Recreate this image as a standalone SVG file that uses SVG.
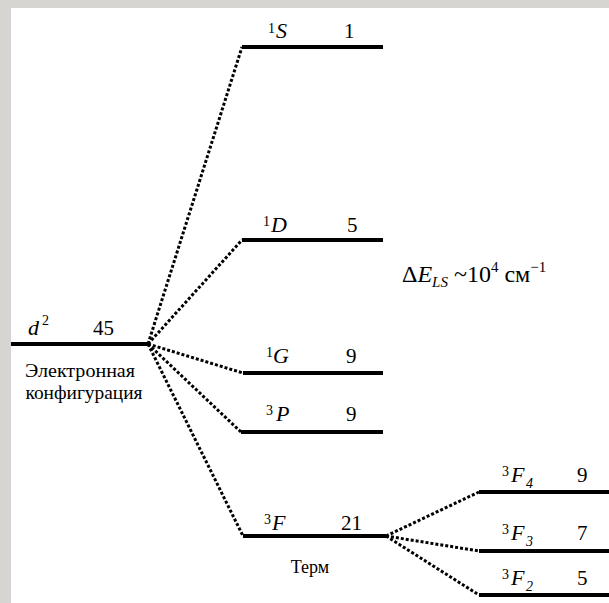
<svg xmlns="http://www.w3.org/2000/svg" width="609" height="603" viewBox="0 0 609 603">
<style>
.lvl{stroke:#000;stroke-width:4;fill:none}
.dot{stroke:#000;stroke-width:3;stroke-dasharray:3 2;fill:none}
.tx{font-family:"Liberation Serif","Tinos","Times New Roman","Times","Noto Serif","DejaVu Serif","FreeSerif",serif;fill:#000}
.it{font-style:italic;font-size:22px}
.num{font-size:21px}
.sup{font-size:14px}
.sub{font-size:14px;font-style:italic}
.cap{font-size:18px}
</style>
<rect x="0" y="0" width="609" height="603" fill="#d6d5d1"/>
<rect x="11" y="8" width="598" height="595" fill="#fff"/>
<g id="connectors">
<path class="dot" d="M148,344 L242,47"/>
<path class="dot" d="M148,344 L242,240"/>
<path class="dot" d="M148,344 L243,373"/>
<path class="dot" d="M148,344 L241,432"/>
<path class="dot" d="M148,344 L243,536"/>
<path class="dot" d="M386,536 L479,492"/>
<path class="dot" d="M386,536 L479,551"/>
<path class="dot" d="M386,536 L479,595"/>
</g>
<g class="tx">
<g id="config">
<line class="lvl" x1="11" y1="344" x2="149" y2="344"/>
<text class="it" x="28" y="335">d</text><text class="sup" x="42" y="325">2</text>
<text class="num" x="93" y="335">45</text>
<text class="cap" x="80" y="377" text-anchor="middle" textLength="110" lengthAdjust="spacingAndGlyphs">Электронная</text>
<text class="cap" x="84" y="399" text-anchor="middle" textLength="117" lengthAdjust="spacingAndGlyphs">конфигурация</text>
</g>
<g id="t1S">
<line class="lvl" x1="242" y1="47" x2="383" y2="47"/>
<text class="sup" x="268" y="33">1</text><text class="it" x="276" y="38">S</text>
<text class="num" x="344" y="38">1</text>
</g>
<g id="t1D">
<line class="lvl" x1="242" y1="240" x2="383" y2="240"/>
<text class="sup" x="263" y="226">1</text><text class="it" x="271" y="232">D</text>
<text class="num" x="347" y="232">5</text>
</g>
<g id="t1G">
<line class="lvl" x1="243" y1="373" x2="383" y2="373"/>
<text class="sup" x="266" y="357">1</text><text class="it" x="273" y="363">G</text>
<text class="num" x="346" y="363">9</text>
</g>
<g id="t3P">
<line class="lvl" x1="241" y1="432" x2="383" y2="432"/>
<text class="sup" x="266" y="415">3</text><text class="it" x="276" y="421">P</text>
<text class="num" x="346" y="421">9</text>
</g>
<g id="t3F">
<line class="lvl" x1="243" y1="536" x2="386" y2="536"/>
<text class="sup" x="264" y="524">3</text><text class="it" x="272" y="530">F</text>
<text class="num" x="341" y="530">21</text>
<text class="cap" x="310" y="573" text-anchor="middle">Терм</text>
</g>
<g id="t3F4">
<line class="lvl" x1="479" y1="492" x2="609" y2="492"/>
<text class="sup" x="502" y="476">3</text><text class="it" x="511" y="482">F</text><text class="sub" x="526" y="488">4</text>
<text class="num" x="577" y="482">9</text>
</g>
<g id="t3F3">
<line class="lvl" x1="479" y1="551" x2="609" y2="551"/>
<text class="sup" x="502" y="534">3</text><text class="it" x="511" y="540">F</text><text class="sub" x="526" y="546">3</text>
<text class="num" x="577" y="540">7</text>
</g>
<g id="t3F2">
<line class="lvl" x1="479" y1="595" x2="609" y2="595"/>
<text class="sup" x="502" y="579">3</text><text class="it" x="511" y="585">F</text><text class="sub" x="526" y="591">2</text>
<text class="num" x="577" y="585">5</text>
</g>
<g id="energy">
<text font-size="24" x="402" y="282">Δ<tspan font-style="italic">E</tspan><tspan font-size="15" font-style="italic" dy="5">LS</tspan><tspan dy="-5"> ~10</tspan><tspan font-size="15" dy="-10">4</tspan><tspan dy="10"> см</tspan><tspan font-size="15" dy="-10">−1</tspan></text>
</g>
</g>
</svg>
